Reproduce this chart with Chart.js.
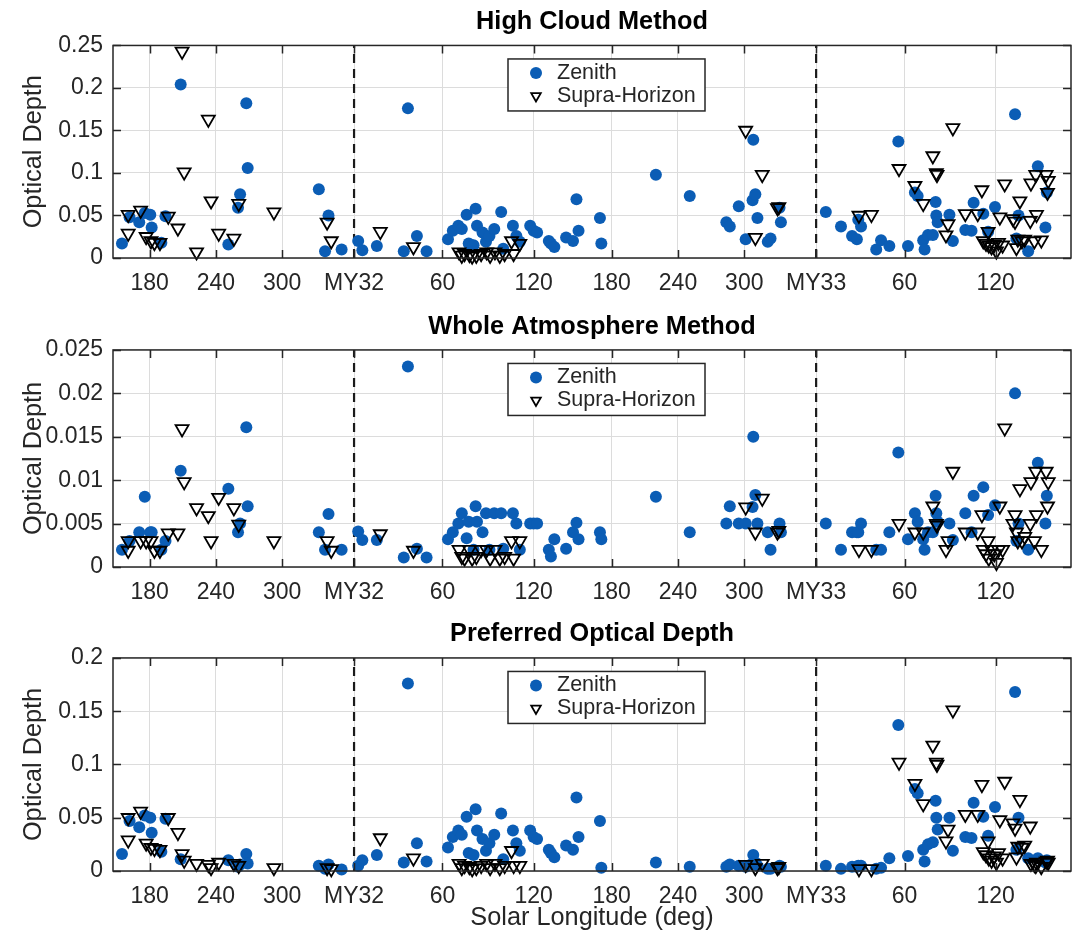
<!DOCTYPE html>
<html>
<head>
<meta charset="utf-8">
<script src="https://cdn.jsdelivr.net/npm/chart.js@4.4.1/dist/chart.umd.min.js"></script>
<style>
  body { margin: 0; background: #fff; }
  #wrap { position: relative; width: 1073px; height: 937px; }
  #wrap canvas { position: absolute; left: 0; }
</style>
</head>
<body>
<div id="wrap">
  <canvas id="c1" width="1073" height="300" style="top:0"></canvas>
  <canvas id="c2" width="1073" height="310" style="top:300px"></canvas>
  <canvas id="c3" width="1073" height="327" style="top:610px"></canvas>
</div>
<script>
// x axis is mission sol; ticks are labelled with solar longitude
const tickSol = [55, 151, 247, 351, 479, 611, 724, 820, 916, 1020, 1148, 1280];
const tickLabel = ["180", "240", "300", "MY32", "60", "120", "180", "240", "300", "MY33", "60", "120"];
const yearStartSol = [351, 1020];

// Zenith observations
const zenithSol = [
  15, 26, 40, 48, 56, 58, 72, 78, 100, 169, 183, 186, 195, 197, 300, 309, 314, 333,
  357, 363, 384, 423, 429, 442, 456,
  487, 494, 502, 507, 514, 517, 524, 527, 529, 537, 542, 547, 554, 564, 567, 581, 586, 591, 606, 611,
  616, 633, 636, 641, 658, 668, 673, 676, 707, 709,
  788, 837, 890, 895, 908, 918, 928, 929, 932, 935, 950, 954, 967, 969,
  1034, 1056, 1072, 1079, 1081, 1085, 1107, 1114, 1126, 1139, 1153, 1163, 1167, 1175, 1177, 1182, 1189,
  1193, 1194, 1196, 1213, 1218, 1236, 1245, 1248, 1262, 1269, 1279, 1308, 1310, 1313, 1327, 1341, 1352, 1354
];
const zenithHigh = [
  .017, .048, .042, .053, .051, .036, .018, .049, .204, .016, .059, .075, .182, .106, .081, .008, .050, .010,
  .020, .009, .014, .008, .176, .026, .008,
  .022, .032, .038, .034, .051, .017, .015, .058, .038, .030, .019, .026, .034, .054, .011, .038, .026, .019, .038, .032,
  .030, .020, .017, .013, .024, .020, .069, .032, .047, .017,
  .098, .073, .042, .037, .061, .022, .068, .139, .075, .047, .019, .023, .059, .042,
  .054, .037, .026, .022, .045, .037, .010, .021, .014, .137, .014, .077, .073, .021, .010, .027, .027,
  .066, .050, .042, .051, .020, .033, .032, .065, .052, .031, .060, .169, .023, .050, .008, .108, .036, .077
];
const zenithWhole = [
  .002, .003, .004, .0081, .004, .004, .002, .003, .0111, .009, .004, .005, .0161, .007, .004, .002, .0061, .002,
  .0041, .0031, .0031, .0011, .0231, .0021, .0011,
  .0032, .004, .005, .0062, .0033, .0052, .002, .007, .0052, .004, .0062, .002, .0062, .0062, .0021, .0062, .005, .002, .005, .005,
  .005, .002, .0012, .0032, .0021, .004, .0051, .0032, .004, .0032,
  .0081, .004, .005, .007, .005, .005, .0069, .015, .0083, .005, .004, .002, .005, .004,
  .005, .002, .004, .004, .004, .005, .002, .002, .004, .0132, .0032, .0062, .0052, .0032, .002, .004, .004,
  .0082, .0062, .0052, .005, .0031, .0062, .004, .0082, .0092, .006, .0071, .020, .003, .005, .002, .012, .005, .0082
];
const zenithPref = [
  .016, .047, .041, .052, .050, .036, .018, .049, .011, .010, .004, .006, .016, .007, .005, .002, .006, .0015,
  .005, .010, .015, .008, .176, .026, .009,
  .022, .032, .038, .034, .051, .017, .015, .058, .038, .030, .019, .026, .034, .054, .011, .038, .026, .019, .038, .032,
  .030, .020, .017, .013, .024, .020, .069, .032, .047, .003,
  .008, .004, .004, .006, .005, .004, .007, .015, .008, .005, .002, .002, .005, .004,
  .005, .002, .004, .004, .005, .005, .002, .003, .012, .137, .014, .077, .073, .020, .009, .025, .027,
  .066, .050, .039, .050, .019, .032, .031, .064, .051, .033, .060, .168, .020, .050, .012, .012, .008, .010
];

// Supra-Horizon observations
const supraSol = [
  24, 24, 42, 50, 57, 62, 70, 82, 96, 102, 105, 123, 140, 144, 155, 177, 184, 235, 312, 318,
  389, 437, 503, 507, 511, 518, 522, 528, 535, 543, 548, 555, 562, 569, 579, 582, 591,
  918, 932, 942, 964, 966,
  1082, 1100, 1140, 1163, 1175, 1189, 1194, 1195, 1208, 1211, 1218, 1236, 1254, 1260, 1269, 1262, 1266, 1270, 1274, 1278,
  1281, 1284, 1286, 1293, 1290, 1305, 1308, 1310, 1312, 1315, 1318, 1322, 1330, 1331, 1339, 1338, 1346, 1353, 1356, 1355, 1336
];
const supraHigh = [
  .051, .029, .056, .025, .020, .018, .018, .049, .035, .243, .101, .007, .163, .067, .029, .023, .064, .054, .042, .020,
  .031, .013, .007, .003, .005, .004, .002, .003, .005, .007, .003, .007, .003, .005, .020, .005, .017,
  .150, .024, .098, .059, .060,
  .050, .051, .105, .085, .064, .120, .100, .098, .027, .040, .153, .052, .052, .080, .031, .020, .017, .015, .013, .016,
  .008, .018, .048, .087, .015, .046, .043, .012, .022, .067, .020, .022, .044, .088, .051, .098, .021, .098, .091, .077, .020
];
const supraWhole = [
  .003, .0019, .003, .003, .003, .0019, .0019, .0039, .0039, .0159, .0098, .0068, .0059, .003, .008, .0068, .0049, .003, .003, .0019,
  .0038, .0019, .002, .0012, .001, .002, .001, .0012, .002, .002, .001, .002, .001, .0012, .003, .001, .003,
  .0069, .004, .0079, .004, .0042,
  .002, .002, .005, .004, .004, .007, .005, .0048, .002, .003, .011, .004, .004, .006, .003, .002, .0015, .001, .002, .0015,
  .0005, .002, .007, .016, .002, .005, .006, .004, .003, .009, .003, .0035, .005, .0098, .006, .011, .002, .011, .0098, .007, .003
];
const supraPref = [
  .050, .029, .056, .026, .022, .021, .020, .050, .036, .016, .010, .007, .006, .003, .008, .007, .005, .003, .003, .002,
  .031, .012, .007, .003, .005, .004, .002, .003, .005, .007, .003, .007, .003, .005, .019, .005, .005,
  .006, .003, .007, .003, .004,
  .002, .002, .102, .082, .063, .118, .102, .100, .028, .039, .151, .053, .053, .081, .028, .018, .015, .012, .010, .014,
  .008, .017, .048, .084, .012, .045, .040, .013, .023, .067, .022, .024, .042, .007, .008, .005, .004, .009, .008, .010, .006
];

const FONT = '"Liberation Sans", Arial, Helvetica, sans-serif';
const INK = "#262626";
const BLUE = "#0b5db5";

// matlab style box, inner ticks and legend
const frame = {
  id: "frame",
  afterDraw(chart) {
    const { ctx, chartArea: a, scales } = chart;
    const x = scales.x, y = scales.y;
    ctx.save();
    ctx.strokeStyle = INK;
    ctx.lineWidth = 1.5;
    ctx.beginPath();
    x.ticks.forEach((t) => {
      const px = Math.round(x.getPixelForValue(t.value)) + 0.5;
      ctx.moveTo(px, a.bottom); ctx.lineTo(px, a.bottom - 8);
      ctx.moveTo(px, a.top); ctx.lineTo(px, a.top + 8);
    });
    y.ticks.forEach((t) => {
      const py = Math.round(y.getPixelForValue(t.value)) + 0.5;
      ctx.moveTo(a.left, py); ctx.lineTo(a.left + 8, py);
      ctx.moveTo(a.right, py); ctx.lineTo(a.right - 8, py);
    });
    ctx.stroke();
    ctx.strokeRect(a.left, a.top, a.right - a.left, a.bottom - a.top);

    // legend
    const lx = a.left + 395, ly = a.top + 13.5, lw = 197, lh = 52;
    ctx.fillStyle = "#fff";
    ctx.fillRect(lx, ly, lw, lh);
    ctx.strokeRect(lx, ly, lw, lh);
    ctx.fillStyle = BLUE;
    ctx.beginPath();
    ctx.arc(lx + 28, ly + 14, 6, 0, Math.PI * 2);
    ctx.fill();
    ctx.strokeStyle = "#000";
    ctx.lineWidth = 1.8;
    ctx.fillStyle = "rgba(255,255,255,0)";
    Chart.helpers.drawPoint(ctx, { pointStyle: "triangle", radius: 5.5, rotation: 180, borderWidth: 1.8 }, lx + 28, ly + 37);
    ctx.fillStyle = INK;
    ctx.font = "21.5px " + FONT;
    ctx.textBaseline = "middle";
    ctx.textAlign = "left";
    ctx.fillText("Zenith", lx + 49, ly + 14);
    ctx.fillText("Supra-Horizon", lx + 49, ly + 37);
    ctx.restore();
  },
};

const panels = [
  { id: "c1", title: "High Cloud Method", zen: zenithHigh, sup: supraHigh, yMax: 0.25, yStep: 0.05,
    titlePad: { top: 7.3, bottom: 7.8 }, xHeight: 42, xTitle: false },
  { id: "c2", title: "Whole Atmosphere Method", zen: zenithWhole, sup: supraWhole, yMax: 0.025, yStep: 0.005,
    titlePad: { top: 11.8, bottom: 7.8 }, xHeight: 43, xTitle: false },
  { id: "c3", title: "Preferred Optical Depth", zen: zenithPref, sup: supraPref, yMax: 0.2, yStep: 0.05,
    titlePad: { top: 9.3, bottom: 8.3 }, xHeight: 66, xTitle: true },
];

panels.forEach((p) => {
  const dashed = yearStartSol.map((s) => ({
    type: "line",
    data: [{ x: s, y: 0 }, { x: s, y: p.yMax }],
    showLine: true,
    borderColor: "#1a1a1a",
    borderWidth: 2.2,
    borderDash: [9, 6],
    pointRadius: 0,
  }));

  new Chart(document.getElementById(p.id), {
    type: "scatter",
    data: {
      datasets: [
        {
          label: "Supra-Horizon",
          data: supraSol.map((s, i) => ({ x: s, y: p.sup[i] })),
          pointStyle: "triangle",
          rotation: 180,
          pointRadius: 7.5,
          borderColor: "#000",
          borderWidth: 1.8,
          backgroundColor: "rgba(255,255,255,0)",
          clip: false,
        },
        {
          label: "Zenith",
          data: zenithSol.map((s, i) => ({ x: s, y: p.zen[i] })),
          pointStyle: "circle",
          pointRadius: 6,
          borderWidth: 0,
          backgroundColor: BLUE,
          clip: false,
        },
        ...dashed,
      ],
    },
    options: {
      responsive: false,
      animation: false,
      events: [],
      layout: { autoPadding: false, padding: { left: 0, right: 2, top: 0, bottom: 0 } },
      plugins: {
        legend: { display: false },
        tooltip: { enabled: false },
        title: {
          display: true,
          text: p.title,
          fullSize: false,
          color: "#000",
          font: { family: FONT, size: 25.3, weight: "bold" },
          padding: p.titlePad,
        },
      },
      scales: {
        x: {
          type: "linear",
          min: 2,
          max: 1389,
          afterBuildTicks: (s) => { s.ticks = tickSol.map((v) => ({ value: v })); },
          afterFit: (s) => { s.height = p.xHeight; s.paddingLeft = 0; s.paddingRight = 0; },
          ticks: {
            autoSkip: false,
            maxRotation: 0,
            padding: 12,
            color: INK,
            font: { family: FONT, size: 23 },
            callback: (v, i) => tickLabel[i],
          },
          grid: { color: "#dcdcdc", lineWidth: 1, drawTicks: false },
          border: { display: false },
          title: {
            display: p.xTitle,
            text: "Solar Longitude (deg)",
            color: INK,
            font: { family: FONT, size: 25.3 },
            padding: { top: 0, bottom: 4 },
          },
        },
        y: {
          min: 0,
          max: p.yMax,
          afterFit: (s) => { s.width = 113; s.paddingTop = 0; s.paddingBottom = 0; },
          ticks: {
            stepSize: p.yStep,
            padding: 10,
            color: INK,
            font: { family: FONT, size: 23 },
            callback: (v) => String(+v.toFixed(4)),
          },
          grid: { color: "#dcdcdc", lineWidth: 1, drawTicks: false },
          border: { display: false },
          title: {
            display: true,
            text: "Optical Depth",
            color: INK,
            font: { family: FONT, size: 25.3 },
            padding: { top: 19, bottom: 0 },
          },
        },
      },
    },
    plugins: [frame],
  });
});
</script>
</body>
</html>
